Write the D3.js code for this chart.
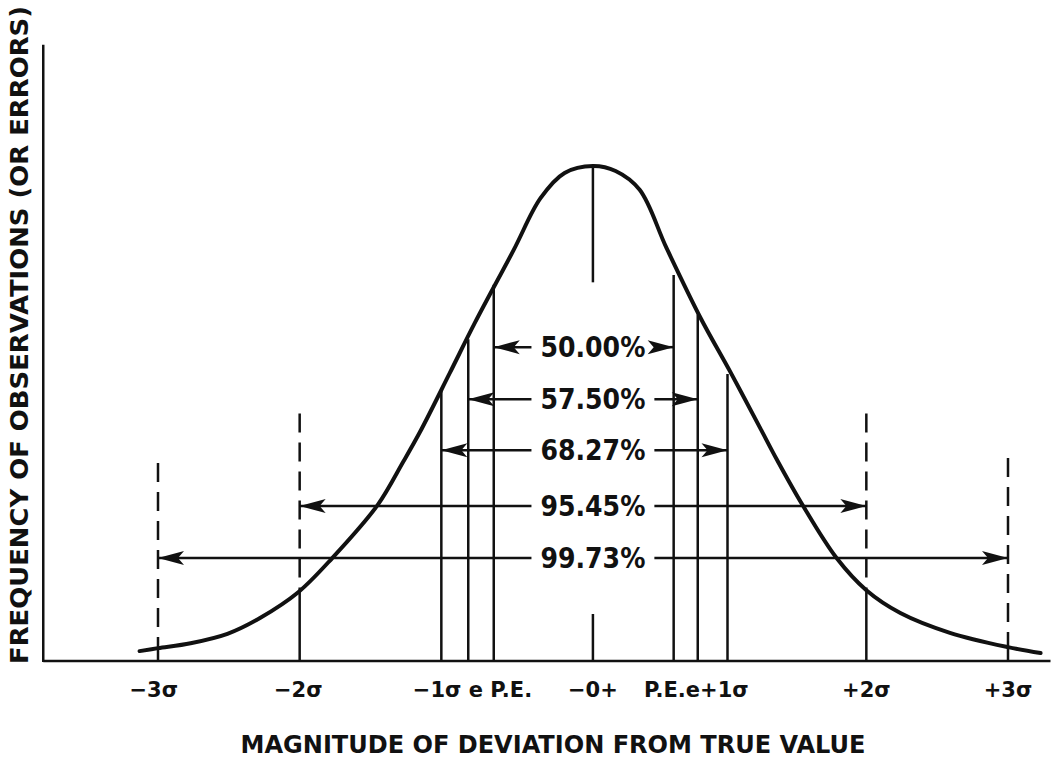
<!DOCTYPE html>
<html>
<head>
<meta charset="utf-8">
<script src="https://cdn.jsdelivr.net/npm/d3@7"></script>
<style>
  body { margin: 0; background: #fff; }
  text { font-family: 'DejaVu Sans', sans-serif; font-weight: bold; fill: #111; }
</style>
</head>
<body>
<div id="chart"></div>
<script>
// curve: position in sigma, height as fraction of the peak
const curveSigma = [-3.13, -3.0, -2.77, -2.51, -2.28, -2.01, -1.77, -1.45, -1.27, -1.15, -0.94, -0.76, -0.49, -0.30, -0.13, 0.07, 0.23, 0.40, 0.59, 0.83, 1.04, 1.25, 1.37, 1.55, 1.79, 2.0, 2.24, 2.59, 3.0, 3.23]
const curveHeight = [0.020, 0.026, 0.036, 0.055, 0.087, 0.139, 0.208, 0.315, 0.402, 0.463, 0.582, 0.685, 0.830, 0.935, 0.986, 1.0, 0.990, 0.952, 0.834, 0.693, 0.584, 0.471, 0.406, 0.315, 0.208, 0.143, 0.097, 0.057, 0.028, 0.016]

// solid verticals (P.E., e, 1 sigma on both sides)
const solidSigma = [-1, -0.81, -0.63, 0.64, 0.81, 1.02]
const solidTop = [0.55, 0.65, 0.76, 0.78, 0.70, 0.58]

// dashed verticals at 2 and 3 sigma
const dashedSigma = [-3, -2, 2, 3]
const dashedTop = [0.40, 0.50, 0.50, 0.41]
const dashedCurve = [0.026, 0.14, 0.14, 0.028]

const centerSigma = 0.07

// percentage arrows
const arrowLabels = ['50.00%', '57.50%', '68.27%', '95.45%', '99.73%']
const arrowLevel = [0.634, 0.529, 0.426, 0.313, 0.208]
const arrowFrom = [-0.63, -0.81, -1, -2, -3]
const arrowTo = [0.64, 0.81, 1.02, 2, 3]

// bottom labels
const tickLabels = ['\u22123\u03C3', '\u22122\u03C3', '\u22121\u03C3 e P.E.', '\u22120+', 'P.E.e+1\u03C3', '+2\u03C3', '+3\u03C3']
const tickSigma = [-3.03, -2.01, -0.78, 0.07, 0.80, 2.0, 3.0]

const width = 1053, height = 758

const svg = d3.select('#chart').append('svg')
  .attr('width', width)
  .attr('height', height)

const x = d3.scaleLinear().domain([-3, 3]).range([158, 1008])
const y = d3.scaleLinear().domain([0, 1]).range([661, 166])

// axes lines
svg.append('line')
  .attr('x1', x(-3.81)).attr('x2', x(3.30))
  .attr('y1', y(0)).attr('y2', y(0))
  .attr('stroke', '#111').attr('stroke-width', 2.5)
svg.append('line')
  .attr('x1', x(-3.81)).attr('x2', x(-3.81))
  .attr('y1', y(0) + 1).attr('y2', y(1.245))
  .attr('stroke', '#111').attr('stroke-width', 2.5)

// the curve
const pts = curveSigma.map((s, i) => [x(s), y(curveHeight[i])])
svg.append('path')
  .attr('d', d3.line().curve(d3.curveCatmullRom.alpha(0.5))(pts))
  .attr('fill', 'none')
  .attr('stroke', '#111')
  .attr('stroke-width', 4)
  .attr('stroke-linecap', 'round')

// solid verticals
svg.append('g').selectAll('line').data(solidSigma)
  .enter().append('line')
    .attr('x1', d => x(d)).attr('x2', d => x(d))
    .attr('y1', y(0)).attr('y2', (d, i) => y(solidTop[i]))
    .attr('stroke', '#111').attr('stroke-width', 2.5)

// dashed verticals: dashed above curve, solid beneath
const dg = svg.append('g')
dashedSigma.forEach((s, i) => {
  dg.append('line')
    .attr('x1', x(s)).attr('x2', x(s))
    .attr('y1', y(dashedTop[i])).attr('y2', y(dashedCurve[i]))
    .attr('stroke', '#111').attr('stroke-width', 2.5)
    .attr('stroke-dasharray', '19,10')
  dg.append('line')
    .attr('x1', x(s)).attr('x2', x(s))
    .attr('y1', y(dashedCurve[i])).attr('y2', y(0))
    .attr('stroke', '#111').attr('stroke-width', 2.5)
})

// center line (top and bottom pieces)
svg.append('line')
  .attr('x1', x(centerSigma)).attr('x2', x(centerSigma))
  .attr('y1', y(1)).attr('y2', y(0.765))
  .attr('stroke', '#111').attr('stroke-width', 2.5)
svg.append('line')
  .attr('x1', x(centerSigma)).attr('x2', x(centerSigma))
  .attr('y1', y(0.095)).attr('y2', y(0))
  .attr('stroke', '#111').attr('stroke-width', 2.5)

// arrows with labels
function arrowHead(g, tipX, tipY, dir){
  const L = 26, W = 7
  const p = [
    [tipX, tipY],
    [tipX - dir * L, tipY - W],
    [tipX - dir * (L - 6), tipY],
    [tipX - dir * L, tipY + W]
  ]
  g.append('path')
    .attr('d', 'M' + p.map(q => q.join(',')).join('L') + 'Z')
    .attr('fill', '#111')
}

const ag = svg.append('g')
arrowLabels.forEach((lab, i) => {
  const yy = y(arrowLevel[i])
  const t = ag.append('text')
    .text(lab)
    .attr('x', x(centerSigma))
    .attr('y', yy + 10)
    .attr('text-anchor', 'middle')
    .attr('font-size', 28)
    .style('font-family', "'DejaVu Sans Condensed', 'DejaVu Sans', sans-serif")
  const bb = t.node().getBBox()
  const gap = 9
  ag.append('line')
    .attr('x1', x(arrowFrom[i])).attr('x2', bb.x - gap)
    .attr('y1', yy).attr('y2', yy)
    .attr('stroke', '#111').attr('stroke-width', 2.5)
  ag.append('line')
    .attr('x1', bb.x + bb.width + gap).attr('x2', x(arrowTo[i]))
    .attr('y1', yy).attr('y2', yy)
    .attr('stroke', '#111').attr('stroke-width', 2.5)
  arrowHead(ag, x(arrowFrom[i]), yy, -1)
  arrowHead(ag, x(arrowTo[i]), yy, 1)
})

// bottom tick labels
svg.append('g').selectAll('text').data(tickLabels)
  .enter().append('text')
    .text(d => d)
    .attr('x', (d, i) => x(tickSigma[i]))
    .attr('y', 697)
    .attr('text-anchor', 'middle')
    .attr('font-size', 21)

// axis titles
svg.append('text')
  .text('MAGNITUDE OF DEVIATION FROM TRUE VALUE')
  .attr('x', 553)
  .attr('y', 753)
  .attr('text-anchor', 'middle')
  .attr('font-size', 24)
  .attr('textLength', 625)
  .attr('lengthAdjust', 'spacingAndGlyphs')

svg.append('text')
  .text('FREQUENCY OF OBSERVATIONS (OR ERRORS)')
  .attr('transform', 'translate(28,335) rotate(-90)')
  .attr('text-anchor', 'middle')
  .attr('font-size', 24)
  .attr('textLength', 658)
  .attr('lengthAdjust', 'spacingAndGlyphs')
</script>
</body>
</html>
